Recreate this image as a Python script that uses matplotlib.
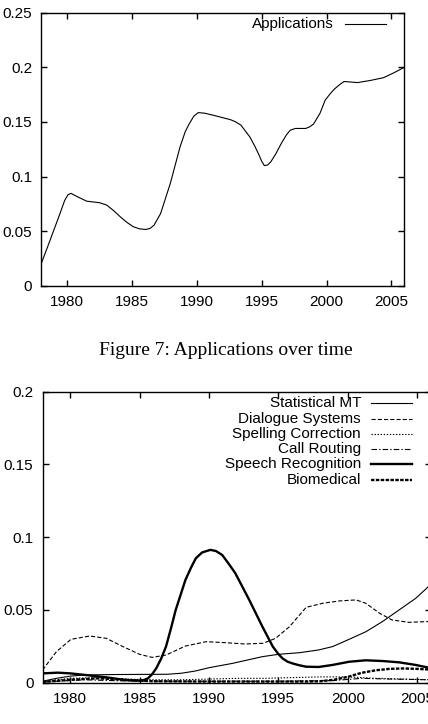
import matplotlib
matplotlib.use("Agg")
import matplotlib.pyplot as plt
from matplotlib.lines import Line2D

plt.rcParams["font.family"] = ["Liberation Sans", "DejaVu Sans"]
plt.rcParams["font.size"] = 11
plt.rcParams["lines.scale_dashes"] = False

# ---- data: top chart (Applications) ----
app_years = [1978, 1978.5, 1979, 1979.44, 1979.8, 1980.07, 1980.3, 1980.7, 1981.5, 1982.5, 1983.05,
             1983.6, 1984.1, 1984.6, 1985.1, 1985.6, 1986.07, 1986.4, 1986.7, 1987.2, 1987.95,
             1988.7, 1989.1, 1989.4, 1989.75, 1990.1, 1990.6, 1991.3, 1992.6, 1993.0, 1993.4,
             1994.1, 1994.5, 1994.8, 1995.0, 1995.2, 1995.45, 1995.7, 1996.1, 1996.5, 1996.9,
             1997.2, 1997.6, 1998.4, 1998.7, 1999.0, 1999.5, 1999.9, 2000.3, 2000.6, 2001.0,
             2001.35, 2002.4, 2003.4, 2004.4, 2005.2, 2006]
app_share = [0.0204, 0.036, 0.052, 0.066, 0.078, 0.0835, 0.0845, 0.082, 0.0774, 0.076, 0.0738,
             0.0685, 0.063, 0.058, 0.054, 0.052, 0.0515, 0.0525, 0.0555, 0.066, 0.0936,
             0.127, 0.141, 0.148, 0.155, 0.1585, 0.158, 0.156, 0.152, 0.150, 0.147,
             0.136, 0.127, 0.1195, 0.114, 0.110, 0.1105, 0.1134, 0.121, 0.130, 0.138,
             0.1424, 0.144, 0.144, 0.1455, 0.148, 0.158, 0.170, 0.176, 0.180, 0.184,
             0.187, 0.186, 0.188, 0.1905, 0.195, 0.200]

# ---- data: bottom chart ----
smt_years = [1978, 1979, 1980, 1981, 1983, 1985, 1987, 1988, 1989, 1990, 1991.7, 1993.85, 1995,
             1996.5, 1997.9, 1998.9, 2000, 2001.3, 2002.5, 2003.7, 2004.9, 2005.7, 2006]
smt_share = [0.001, 0.003, 0.0045, 0.0053, 0.0056, 0.0057, 0.0058, 0.0065, 0.008, 0.0103, 0.0133,
             0.0179, 0.0195, 0.0206, 0.0225, 0.0248, 0.0294, 0.035, 0.042, 0.050, 0.058, 0.065, 0.068]

dlg_years = [1978, 1979, 1980.05, 1981.4, 1982.6, 1983.8, 1985, 1985.9, 1986.9, 1988.3, 1989.8,
             1991.2, 1992.6, 1993.9, 1994.8, 1995.8, 1997, 1998.2, 1999.4, 2000.6, 2001.3,
             2002.3, 2003.2, 2004.4, 2005.7, 2006]
dlg_share = [0.0087, 0.0213, 0.0298, 0.0321, 0.0305, 0.0248, 0.0195, 0.0174, 0.019, 0.0252, 0.0282,
             0.0275, 0.0266, 0.0271, 0.0305, 0.0385, 0.0518, 0.0546, 0.0562, 0.0569, 0.0546,
             0.0477, 0.0431, 0.0415, 0.042, 0.0422]

spell_years = [1978, 1980, 1982, 1984, 1986, 1988, 1990, 1992, 1994, 1996, 1998, 2000, 2002, 2004, 2006]
spell_share = [0.001, 0.003, 0.0035, 0.0025, 0.002, 0.002, 0.0025, 0.003, 0.003, 0.0035, 0.004,
               0.004, 0.003, 0.0025, 0.002]

call_years = [1978, 1981, 1984, 1987, 1990, 1995, 1999, 2001, 2003, 2006]
call_share = [0.0005, 0.002, 0.0012, 0.001, 0.001, 0.001, 0.0015, 0.003, 0.0025, 0.002]

sr_years = [1978, 1979.1, 1980, 1981.1, 1982.6, 1984, 1985, 1985.3, 1985.6, 1985.9, 1986.2, 1986.55,
            1986.9, 1987.25, 1987.6, 1988.3, 1988.7, 1989.05, 1989.5, 1990.1, 1990.5, 1990.95,
            1991.4, 1991.9, 1992.9, 1993.85, 1994.6, 1995.0, 1995.3, 1995.65, 1996, 1996.5, 1997,
            1997.9, 1998.9, 2000.1, 2001.3, 2002.5, 2003.7, 2004.9, 2005.7, 2006]
sr_share = [0.0064, 0.0069, 0.0064, 0.0053, 0.0037, 0.0018, 0.0014, 0.0018, 0.003, 0.0058, 0.0099,
            0.0165, 0.0248, 0.037, 0.050, 0.0706, 0.079, 0.0855, 0.0895, 0.0913, 0.0905, 0.0878,
            0.082, 0.0752, 0.0569, 0.0385, 0.0248, 0.0197, 0.0167, 0.0145, 0.0133, 0.012, 0.011,
            0.0108, 0.0122, 0.0144, 0.0154, 0.0149, 0.014, 0.0122, 0.0106, 0.010]

bio_years = [1978, 1980, 1982, 1984, 1986, 1990, 1997, 1998, 1999, 2000, 2001, 2002, 2003, 2004, 2005, 2006]
bio_share = [0.0005, 0.002, 0.003, 0.002, 0.001, 0.0008, 0.0008, 0.001, 0.002, 0.004, 0.0068,
             0.0085, 0.0095, 0.0098, 0.0095, 0.009]

x_ticks = [1980, 1985, 1990, 1995, 2000, 2005]
top_y_ticks = [0, 0.05, 0.1, 0.15, 0.2, 0.25]
top_y_labels = ["0", "0.05", "0.1", "0.15", "0.2", "0.25"]
bot_y_ticks = [0, 0.05, 0.1, 0.15, 0.2]
bot_y_labels = ["0", "0.05", "0.1", "0.15", "0.2"]

W, H = 428, 724
fig = plt.figure(figsize=(W / 100, H / 100), dpi=100)


def px_axes(left, top, right, bottom):
    # pixel box (from top-left) -> figure fraction
    return fig.add_axes([left / W, 1 - bottom / H, (right - left) / W, (bottom - top) / H])


def style(ax, yticks, ylabels, ymax):
    ax.set_xlim(1978, 2006)
    ax.set_ylim(0, ymax)
    ax.set_xticks(x_ticks)
    ax.set_yticks(yticks)
    ax.set_yticklabels(ylabels)
    ax.tick_params(direction="in", top=True, right=True, length=4, width=1, pad=6.5)
    ax.tick_params(axis="x", pad=7)
    for s in ax.spines.values():
        s.set_linewidth(1.0)


def legend_entry(text_right, x0, x1, y, label, **line_kw):
    fig.text(text_right / W, 1 - y / H, label, ha="right", va="center", fontsize=11)
    fig.add_artist(Line2D([x0 / W, x1 / W], [1 - y / H, 1 - y / H], color="black", **line_kw))


# top chart
ax1 = px_axes(41.3, 12.7, 404.3, 285.7)
ax1.plot(app_years, app_share, color="black", lw=0.8)
style(ax1, top_y_ticks, top_y_labels, 0.25)
legend_entry(334, 345, 386, 24, "Applications", lw=0.8)

fig.text(226 / W, 1 - 355 / H, "Figure 7: Applications over time", ha="center", va="baseline",
         fontsize=14, family=["Liberation Serif", "DejaVu Serif"])

# bottom chart (extends past the right edge, like the cropped original)
ax2 = px_axes(42.5, 391.7, 431.0, 682.7)
series = [
    ("Statistical MT", smt_years, smt_share, dict(lw=0.8, linestyle="-")),
    ("Dialogue Systems", dlg_years, dlg_share, dict(lw=0.8, linestyle=(0, (3, 1.5)))),
    ("Spelling Correction", spell_years, spell_share, dict(lw=0.8, linestyle=(0, (1, 1.2)))),
    ("Call Routing", call_years, call_share, dict(lw=0.8, linestyle=(0, (4, 1.5, 1, 1.5)))),
    ("Speech Recognition", sr_years, sr_share, dict(lw=1.7, linestyle="-")),
    ("Biomedical", bio_years, bio_share, dict(lw=1.7, linestyle=(0, (2.5, 1)))),
]
for i, (name, xs, ys, kw) in enumerate(series):
    ax2.plot(xs, ys, color="black", **kw)
    legend_entry(361, 370.7, 411.7, 403.3 + i * 15.3, name, **kw)
style(ax2, bot_y_ticks, bot_y_labels, 0.2)

fig.savefig("out.png", dpi=100)
